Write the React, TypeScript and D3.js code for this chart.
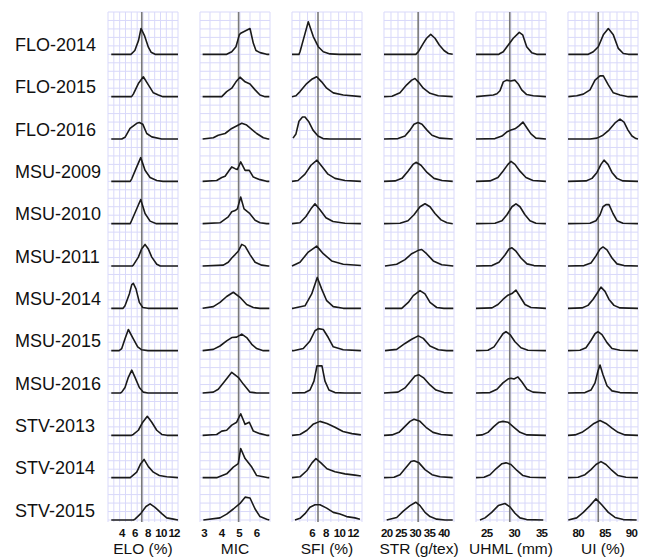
import React from 'react';
import * as d3 from 'd3';

const rows = ['FLO-2014', 'FLO-2015', 'FLO-2016', 'MSU-2009', 'MSU-2010', 'MSU-2011',
  'MSU-2014', 'MSU-2015', 'MSU-2016', 'STV-2013', 'STV-2014', 'STV-2015'];

const traits = ['ELO (%)', 'MIC', 'SFI (%)', 'STR (g/tex)', 'UHML (mm)', 'UI (%)'];
const xDomains = [[1.9, 12.6], [2.77, 6.76], [3.07, 13.3], [19.05, 43.55], [23.05, 35.8], [78.06, 91.22]];
const xTicks = [[4, 6, 8, 10, 12], [3, 4, 5, 6], [6, 8, 10, 12], [20, 25, 30, 35, 40], [25, 30, 35], [80, 85, 90]];
const refLines = [7.06, 4.97, 6.87, 31.0, 29.2, 83.75];
const gridDivs = [12, 7, 9, 10, 10, 10];

// scaled density (1 = full row height), [value, density] pairs
const eloDensity = [
  [[2.4, 0], [5.4, 0], [6.0, 0.09], [6.57, 0.33], [6.95, 0.61], [7.46, 0.45], [8.07, 0.17], [8.48, 0.05], [9.1, 0], [12.6, 0]],
  [[2.4, 0], [5.5, 0], [5.77, 0.06], [6.54, 0.31], [7.3, 0.47], [8.07, 0.28], [8.83, 0.09], [9.6, 0.04], [10.3, 0], [12.6, 0]],
  [[2.4, 0], [4.0, 0], [4.5, 0.04], [5.27, 0.25], [6.3, 0.37], [6.69, 0.39], [7.21, 0.35], [7.82, 0.13], [8.59, 0.05], [10.1, 0], [12.6, 0]],
  [[2.4, 0], [5.3, 0], [5.53, 0.06], [6.18, 0.30], [6.9, 0.56], [7.56, 0.26], [8.33, 0.09], [9.35, 0.02], [10.3, 0], [12.6, 0]],
  [[2.4, 0], [5.3, 0], [5.53, 0.08], [6.18, 0.31], [6.9, 0.57], [7.56, 0.24], [8.33, 0.06], [9.3, 0], [12.6, 0]],
  [[2.4, 0], [5.6, 0], [5.77, 0.02], [6.54, 0.21], [7.06, 0.41], [7.56, 0.51], [8.07, 0.40], [8.59, 0.21], [9.35, 0.04], [9.9, 0], [12.6, 0]],
  [[2.4, 0], [4.2, 0], [4.5, 0.06], [5.16, 0.34], [5.53, 0.56], [5.77, 0.59], [6.18, 0.46], [6.69, 0.14], [7.21, 0.02], [8.0, 0], [12.6, 0]],
  [[2.4, 0], [3.6, 0], [4.0, 0.05], [4.5, 0.28], [5.01, 0.50], [5.77, 0.28], [6.44, 0.09], [7.06, 0.02], [8.0, 0], [12.6, 0]],
  [[2.4, 0], [3.8, 0], [4.0, 0.02], [4.5, 0.13], [5.01, 0.37], [5.53, 0.54], [6.03, 0.37], [6.69, 0.13], [7.3, 0.02], [8.0, 0], [12.6, 0]],
  [[2.4, 0], [5.5, 0], [5.77, 0.02], [6.54, 0.12], [7.21, 0.31], [7.91, 0.45], [8.59, 0.31], [9.35, 0.12], [10.12, 0.02], [10.9, 0], [12.6, 0]],
  [[2.4, 0], [5.3, 0], [5.53, 0.03], [6.29, 0.13], [6.9, 0.33], [7.41, 0.43], [8.07, 0.26], [8.83, 0.13], [9.75, 0.05], [10.88, 0.02], [12.6, 0]],
  [[2.4, 0], [5.8, 0], [6.03, 0.02], [6.9, 0.15], [7.71, 0.32], [8.33, 0.38], [9.09, 0.30], [10.12, 0.15], [10.88, 0.05], [11.89, 0.02], [12.6, 0]],
];

const micDensity = [
  [[2.92, 0], [4.29, 0], [4.58, 0.06], [4.82, 0.18], [5.01, 0.46], [5.09, 0.50], [5.62, 0.61], [5.81, 0.26], [5.96, 0.09], [6.19, 0.04], [6.57, 0], [6.72, 0]],
  [[2.92, 0], [4.01, 0], [4.29, 0.12], [4.58, 0.20], [4.82, 0.35], [5.05, 0.46], [5.34, 0.35], [5.62, 0.30], [5.91, 0.16], [6.19, 0.04], [6.48, 0], [6.72, 0]],
  [[2.92, 0], [3.53, 0.03], [3.81, 0.09], [4.20, 0.13], [4.58, 0.25], [5.15, 0.37], [5.43, 0.33], [6.0, 0.13], [6.38, 0.03], [6.66, 0], [6.72, 0]],
  [[2.92, 0], [3.72, 0.02], [4.01, 0.09], [4.20, 0.12], [4.44, 0.26], [4.58, 0.34], [4.77, 0.30], [4.90, 0.28], [5.09, 0.46], [5.34, 0.26], [5.58, 0.26], [5.81, 0.10], [6.19, 0.04], [6.57, 0], [6.72, 0]],
  [[2.92, 0], [3.91, 0.02], [4.38, 0.16], [4.58, 0.28], [4.77, 0.31], [4.90, 0.35], [5.09, 0.63], [5.28, 0.35], [5.58, 0.25], [5.91, 0.08], [6.19, 0.02], [6.57, 0], [6.72, 0]],
  [[2.92, 0], [4.10, 0.02], [4.38, 0.09], [4.58, 0.19], [4.77, 0.27], [4.95, 0.35], [5.15, 0.51], [5.34, 0.47], [5.62, 0.27], [5.91, 0.09], [6.29, 0.02], [6.66, 0], [6.72, 0]],
  [[2.92, 0], [3.53, 0.04], [3.91, 0.14], [4.29, 0.28], [4.67, 0.38], [5.05, 0.26], [5.43, 0.09], [5.81, 0.02], [6.19, 0], [6.72, 0]],
  [[2.92, 0], [3.53, 0.03], [3.91, 0.11], [4.29, 0.23], [4.58, 0.31], [4.86, 0.32], [5.15, 0.39], [5.43, 0.31], [5.72, 0.15], [6.0, 0.05], [6.38, 0], [6.72, 0]],
  [[2.92, 0], [3.53, 0.02], [3.81, 0.09], [4.20, 0.29], [4.58, 0.49], [4.95, 0.37], [5.24, 0.21], [5.62, 0.02], [6.0, 0], [6.72, 0]],
  [[2.92, 0], [3.72, 0.02], [4.01, 0.10], [4.29, 0.12], [4.58, 0.24], [4.86, 0.31], [5.09, 0.51], [5.34, 0.26], [5.58, 0.31], [5.81, 0.10], [6.19, 0.04], [6.57, 0], [6.72, 0]],
  [[2.92, 0], [3.72, 0], [4.29, 0.09], [4.67, 0.25], [4.95, 0.33], [5.09, 0.69], [5.34, 0.45], [5.72, 0.25], [6.0, 0.05], [6.38, 0.02], [6.66, 0], [6.72, 0]],
  [[2.96, 0], [3.91, 0.05], [4.29, 0.14], [4.67, 0.26], [5.05, 0.39], [5.34, 0.54], [5.62, 0.52], [5.91, 0.26], [6.19, 0.08], [6.57, 0.02], [6.72, 0]],
];

const sfiDensity = [
  [[3.07, 0], [4.09, 0], [4.24, 0.06], [4.82, 0.40], [5.45, 0.77], [6.18, 0.42], [6.91, 0.18], [7.64, 0.06], [8.62, 0.01], [10, 0], [13.14, 0]],
  [[3.07, 0], [3.65, 0.02], [4.24, 0.12], [5.22, 0.31], [5.95, 0.41], [6.68, 0.47], [7.40, 0.35], [8.14, 0.20], [9.10, 0.09], [10.56, 0.04], [13.14, 0]],
  [[3.22, 0.02], [3.65, 0.12], [4.09, 0.42], [4.6, 0.52], [4.97, 0.52], [5.55, 0.40], [6.14, 0.21], [6.87, 0.07], [7.6, 0.01], [8.62, 0], [13.14, 0]],
  [[3.07, 0], [3.95, 0.02], [4.97, 0.17], [5.84, 0.38], [6.72, 0.50], [7.45, 0.35], [8.33, 0.17], [9.35, 0.07], [10.81, 0.02], [13.14, 0]],
  [[3.07, 0], [4.24, 0.02], [5.11, 0.17], [5.84, 0.35], [6.43, 0.47], [7.16, 0.33], [8.03, 0.14], [9.06, 0.05], [10.81, 0.01], [13.14, 0]],
  [[3.07, 0], [4.24, 0.09], [5.45, 0.33], [6.68, 0.47], [7.64, 0.29], [8.87, 0.12], [10.56, 0.04], [13.14, 0.01]],
  [[3.07, 0], [3.26, 0], [4.97, 0.06], [5.95, 0.34], [6.76, 0.73], [7.40, 0.46], [8.14, 0.18], [9.10, 0.04], [10.56, 0], [13.14, 0]],
  [[3.07, 0], [3.26, 0], [4.72, 0.05], [5.70, 0.23], [6.43, 0.47], [6.91, 0.52], [7.64, 0.50], [8.37, 0.31], [9.10, 0.09], [10.56, 0.02], [13.14, 0]],
  [[3.07, 0], [4.97, 0.01], [5.70, 0.07], [6.28, 0.28], [6.72, 0.64], [7.45, 0.64], [7.89, 0.28], [8.47, 0.07], [9.35, 0.01], [10.81, 0], [13.14, 0]],
  [[3.07, 0], [4.24, 0.02], [5.26, 0.12], [6.14, 0.26], [7.16, 0.33], [8.18, 0.28], [9.35, 0.19], [10.52, 0.09], [11.83, 0.04], [13.14, 0.01]],
  [[3.07, 0], [4.24, 0.02], [5.26, 0.17], [5.99, 0.35], [6.57, 0.45], [7.30, 0.35], [8.18, 0.21], [9.35, 0.14], [10.81, 0.09], [12.27, 0.06], [13.14, 0.04]],
  [[3.51, 0], [4.24, 0.04], [4.97, 0.15], [5.70, 0.30], [6.43, 0.36], [7.16, 0.36], [8.14, 0.28], [9.10, 0.18], [10.08, 0.14], [11.06, 0.08], [12.27, 0.05], [13.0, 0.02]],
];

const strDensity = [
  [[19.05, 0], [30.2, 0], [31.05, 0.06], [32.8, 0.26], [33.95, 0.38], [35.4, 0.47], [36.9, 0.38], [38.4, 0.22], [40.05, 0.09], [41.55, 0.02], [43.1, 0]],
  [[19.05, 0], [21.85, 0.01], [24.65, 0.09], [27.0, 0.28], [28.75, 0.39], [29.9, 0.43], [31.05, 0.35], [32.8, 0.20], [35.15, 0.08], [38.05, 0.02], [43.1, 0]],
  [[19.05, 0], [23.95, 0.01], [26.4, 0.07], [28.15, 0.21], [29.55, 0.35], [30.95, 0.39], [32.35, 0.35], [34.1, 0.21], [35.85, 0.09], [38.65, 0.02], [43.1, 0]],
  [[19.05, 0], [22.9, 0.01], [25.35, 0.07], [27.45, 0.24], [29.2, 0.40], [30.25, 0.45], [32.0, 0.38], [34.1, 0.21], [36.55, 0.07], [39.35, 0.02], [43.1, 0]],
  [[19.05, 0], [24.65, 0.01], [27.45, 0.07], [29.55, 0.21], [31.65, 0.40], [33.4, 0.47], [35.15, 0.40], [36.9, 0.24], [39.0, 0.09], [41.1, 0.02], [43.1, 0]],
  [[19.4, 0], [23.5, 0.04], [26.4, 0.15], [28.75, 0.29], [31.05, 0.37], [32.25, 0.39], [33.95, 0.29], [36.3, 0.12], [39.25, 0.03], [43.3, 0]],
  [[19.4, 0], [25.25, 0], [27.55, 0.14], [29.3, 0.30], [31.65, 0.42], [33.4, 0.34], [35.15, 0.14], [37.5, 0.02], [40, 0], [43.3, 0]],
  [[19.4, 0], [23.5, 0.03], [26.4, 0.17], [28.75, 0.27], [31.05, 0.35], [32.8, 0.29], [35.15, 0.11], [38.05, 0.02], [41, 0], [43.3, 0]],
  [[19.05, 0], [23.95, 0.02], [26.4, 0.12], [28.15, 0.26], [29.9, 0.40], [31.3, 0.43], [33.05, 0.35], [35.15, 0.19], [37.25, 0.07], [40.05, 0.01], [43.1, 0]],
  [[19.05, 0], [21.85, 0.01], [24.3, 0.07], [26.4, 0.21], [28.15, 0.33], [29.55, 0.38], [31.65, 0.33], [33.75, 0.19], [36.2, 0.07], [39.0, 0.02], [43.1, 0]],
  [[19.05, 0], [22.55, 0.01], [24.65, 0.07], [26.75, 0.24], [28.5, 0.38], [29.55, 0.40], [31.3, 0.35], [33.4, 0.19], [35.85, 0.07], [38.65, 0.02], [43.1, 0]],
  [[20.0, 0], [23.5, 0.06], [25.8, 0.21], [28.15, 0.34], [30.15, 0.42], [31.65, 0.34], [33.4, 0.18], [35.15, 0.08], [37.5, 0.02], [40.4, 0], [43.1, 0]],
];

const uhmlDensity = [
  [[23.05, 0], [27.2, 0], [27.42, 0.02], [28.02, 0.06], [28.93, 0.22], [29.84, 0.38], [30.93, 0.52], [31.55, 0.46], [32.28, 0.18], [33.19, 0.04], [34.1, 0], [35.79, 0]],
  [[23.05, 0], [26.2, 0.04], [26.87, 0.07], [27.42, 0.14], [28.02, 0.35], [28.64, 0.39], [29.37, 0.37], [30.15, 0.39], [30.75, 0.30], [31.37, 0.16], [32.28, 0.05], [33.48, 0.02], [35.79, 0]],
  [[23.05, 0], [26.51, 0.01], [27.78, 0.07], [28.69, 0.17], [29.42, 0.21], [30.15, 0.24], [30.88, 0.31], [31.6, 0.40], [32.33, 0.26], [33.06, 0.12], [33.97, 0.02], [35.79, 0]],
  [[23.05, 0], [25.6, 0.01], [27.05, 0.09], [27.96, 0.24], [28.87, 0.40], [29.42, 0.47], [30.15, 0.40], [31.06, 0.24], [32.15, 0.09], [33.42, 0.02], [35.79, 0]],
  [[23.05, 0], [26.51, 0.01], [27.78, 0.07], [28.69, 0.21], [29.6, 0.40], [30.33, 0.47], [31.06, 0.40], [31.97, 0.21], [32.88, 0.07], [33.97, 0.01], [35.79, 0]],
  [[23.05, 0], [25.96, 0.01], [27.24, 0.09], [28.33, 0.26], [29.06, 0.40], [29.6, 0.43], [30.33, 0.35], [31.24, 0.19], [32.33, 0.05], [33.61, 0.01], [35.79, 0]],
  [[23.05, 0], [25.96, 0.01], [27.05, 0.09], [27.96, 0.21], [28.87, 0.31], [29.6, 0.35], [30.33, 0.43], [31.06, 0.28], [31.97, 0.09], [33.06, 0.02], [35.79, 0]],
  [[23.05, 0], [25.23, 0.01], [26.33, 0.09], [27.24, 0.26], [27.96, 0.40], [28.51, 0.45], [29.24, 0.38], [30.15, 0.21], [31.24, 0.07], [32.51, 0.01], [35.79, 0]],
  [[23.05, 0], [25.6, 0.01], [26.87, 0.09], [27.96, 0.24], [28.87, 0.33], [29.42, 0.35], [29.97, 0.33], [30.69, 0.38], [31.42, 0.26], [32.33, 0.09], [33.42, 0.02], [35.79, 0]],
  [[23.05, 0], [24.14, 0.01], [25.23, 0.07], [26.33, 0.21], [27.24, 0.31], [27.96, 0.33], [28.87, 0.31], [29.97, 0.19], [31.06, 0.07], [32.33, 0.01], [35.79, 0]],
  [[23.05, 0], [24.51, 0.01], [25.6, 0.07], [26.69, 0.21], [27.78, 0.33], [28.51, 0.35], [29.42, 0.31], [30.51, 0.17], [31.6, 0.05], [32.88, 0.01], [35.79, 0]],
  [[23.78, 0], [24.69, 0.05], [25.91, 0.18], [27.11, 0.34], [28.33, 0.39], [29.24, 0.31], [30.15, 0.16], [31.06, 0.05], [32.28, 0.01], [35.3, 0]],
];

const uiDensity = [
  [[78.12, 0], [81.88, 0], [82.82, 0.06], [83.76, 0.18], [84.7, 0.46], [85.64, 0.61], [86.58, 0.46], [87.52, 0.14], [88.46, 0.02], [89.4, 0], [91.2, 0]],
  [[78.12, 0], [79.7, 0.02], [80.94, 0.06], [82.2, 0.16], [83.14, 0.39], [84.08, 0.49], [84.7, 0.49], [85.64, 0.28], [86.58, 0.09], [87.84, 0.04], [89.4, 0], [91.2, 0]],
  [[78.06, 0], [82.2, 0], [83.51, 0.02], [84.64, 0.09], [85.77, 0.21], [86.9, 0.38], [87.84, 0.47], [88.59, 0.40], [89.34, 0.21], [90.09, 0.07], [90.84, 0.01], [91.22, 0]],
  [[78.06, 0], [81.44, 0.01], [82.57, 0.07], [83.51, 0.21], [84.26, 0.40], [84.83, 0.50], [85.58, 0.40], [86.33, 0.21], [87.27, 0.07], [88.4, 0.01], [91.22, 0]],
  [[78.06, 0], [82.2, 0.01], [83.32, 0.07], [84.08, 0.21], [84.64, 0.40], [85.2, 0.45], [85.77, 0.45], [86.52, 0.24], [87.27, 0.07], [88.4, 0.01], [91.22, 0]],
  [[78.06, 0], [81.07, 0.01], [82.38, 0.07], [83.32, 0.24], [84.08, 0.40], [84.64, 0.45], [85.39, 0.38], [86.33, 0.19], [87.27, 0.05], [88.59, 0.01], [91.22, 0]],
  [[78.06, 0], [80.69, 0.01], [81.82, 0.07], [82.76, 0.21], [83.51, 0.35], [84.26, 0.50], [85.02, 0.40], [85.77, 0.21], [86.71, 0.07], [87.84, 0.01], [91.22, 0]],
  [[78.06, 0], [80.32, 0.01], [81.44, 0.07], [82.38, 0.24], [83.14, 0.40], [83.7, 0.45], [84.45, 0.38], [85.39, 0.19], [86.33, 0.05], [87.84, 0.01], [91.22, 0]],
  [[78.06, 0], [81.26, 0.01], [82.38, 0.07], [83.14, 0.24], [83.7, 0.52], [84.08, 0.66], [84.64, 0.43], [85.39, 0.17], [86.33, 0.05], [87.84, 0.01], [91.22, 0]],
  [[78.06, 0], [79.38, 0.01], [80.69, 0.07], [81.82, 0.17], [82.95, 0.28], [84.08, 0.35], [85.2, 0.28], [86.33, 0.17], [87.46, 0.07], [88.78, 0.01], [91.22, 0]],
  [[78.06, 0], [79.94, 0.01], [81.26, 0.07], [82.38, 0.19], [83.32, 0.31], [84.26, 0.38], [85.2, 0.31], [86.33, 0.17], [87.46, 0.05], [88.96, 0.01], [91.22, 0]],
  [[78.12, 0], [79.7, 0.05], [80.94, 0.18], [82.2, 0.34], [83.32, 0.50], [84.4, 0.36], [85.64, 0.18], [86.9, 0.06], [88.46, 0.01], [90.97, 0]],
];

const densities = [eloDensity, micDensity, sfiDensity, strDensity, uhmlDensity, uiDensity];

const W = 646;
const H = 559;
const font = '"Liberation Sans", Arial, sans-serif';

const App = () => {
  const colScale = d3.scaleBand().domain(traits).range([108, 638]).paddingInner(0.239);
  const rowScale = d3.scaleBand().domain(rows).range([12, 520]);
  const rowH = rowScale.bandwidth();
  const panelW = colScale.bandwidth();
  const gridTop = 12;
  const gridBottom = 522;

  return (
    <svg width={W} height={H} style={{ position: 'absolute', left: 0, top: 0, background: '#fff' }}>
      {/* row labels */}
      {rows.map((r) => (
        <text key={r} x={15} y={rowScale(r) + rowH - 3.5} fontFamily={font} fontSize={18} fill="#111">
          {r}
        </text>
      ))}

      {traits.map((t, ci) => {
        const left = colScale(t);
        const x = d3.scaleLinear().domain(xDomains[ci]).range([left, left + panelW]);
        const gridX = d3.range(gridDivs[ci] + 1).map((k) => left + (k * panelW) / gridDivs[ci]);
        const gridY = d3.range(Math.round((gridBottom - gridTop) / (rowH / 5)) + 1)
          .map((k) => gridTop + (k * rowH) / 5)
          .filter((v) => v <= gridBottom);
        return (
          <g key={t}>
            {gridX.map((gx, k) => (
              <line key={'v' + k} x1={gx} x2={gx} y1={gridTop} y2={gridBottom} stroke="#d9d9fa" strokeWidth={1} />
            ))}
            {gridY.map((gy, k) => (
              <line key={'h' + k} x1={left} x2={left + panelW} y1={gy} y2={gy} stroke="#d9d9fa" strokeWidth={1} />
            ))}
            <line x1={x(refLines[ci])} x2={x(refLines[ci])} y1={gridTop} y2={gridBottom} stroke="#7a7a7a" strokeWidth={1.6} />
            {rows.map((r, ri) => {
              const base = rowScale(r) + rowH;
              const y = d3.scaleLinear().domain([0, 1]).range([base, base - rowH]);
              const line = d3.line().x((d) => x(d[0])).y((d) => y(d[1]));
              return (
                <path key={r} d={line(densities[ci][ri])} fill="none" stroke="#1a1a1a" strokeWidth={1.6} strokeLinejoin="round" />
              );
            })}
            {xTicks[ci].map((v) => (
              <text key={v} x={x(v)} y={537} textAnchor="middle" fontFamily={font} fontSize={11.5} fontWeight="bold" letterSpacing={-0.7} fill="#111">
                {v}
              </text>
            ))}
            <text x={left + panelW / 2} y={554} textAnchor="middle" fontFamily={font} fontSize={15.5} fill="#111">
              {t}
            </text>
          </g>
        );
      })}
    </svg>
  );
};

export default App;
